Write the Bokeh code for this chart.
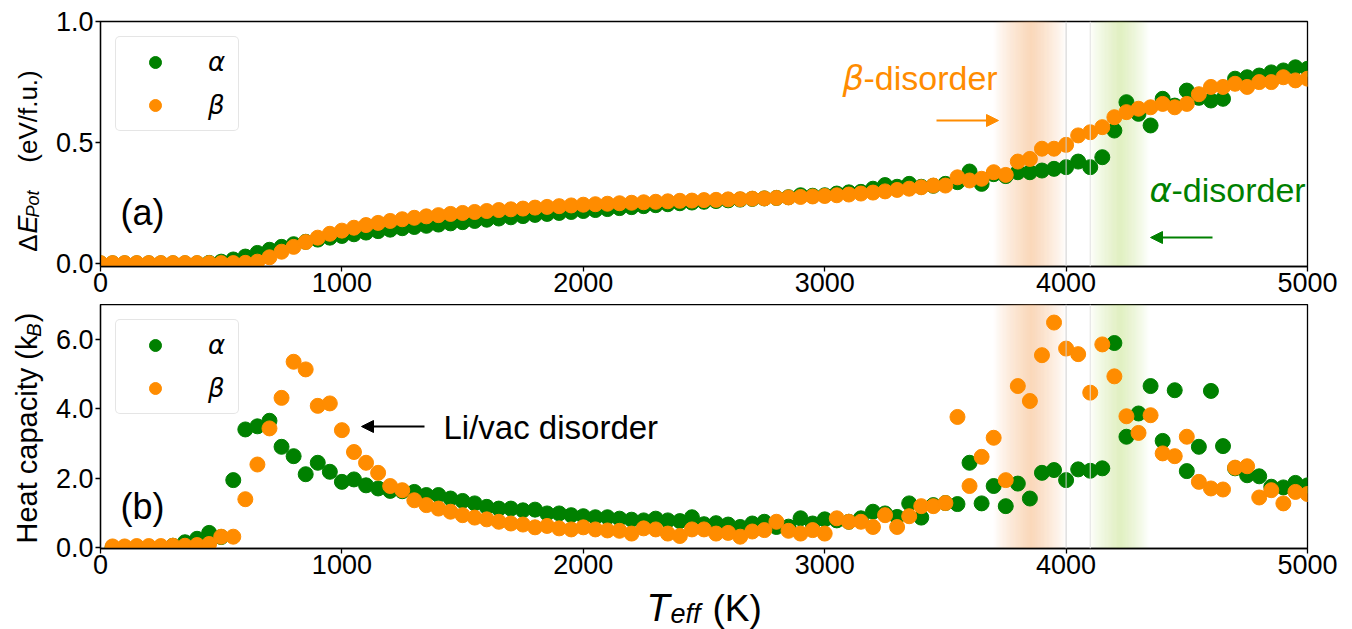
import numpy as np
from bokeh.plotting import figure
from bokeh.layouts import column, row
from bokeh.models import (Legend, LegendItem, Label, Arrow, NormalHead, Span,
                          FixedTicker, NumeralTickFormatter, Range1d)
from bokeh.embed import file_html
from bokeh.resources import INLINE

# ---------------- data ----------------
T_top = [0, 50, 100, 150, 200, 250, 300, 350, 400, 450, 500, 550, 600, 650, 700, 750, 800, 850, 900, 950,
         1000, 1050, 1100, 1150, 1200, 1250, 1300, 1350, 1400, 1450, 1500, 1550, 1600, 1650, 1700, 1750,
         1800, 1850, 1900, 1950, 2000, 2050, 2100, 2150, 2200, 2250, 2300, 2350, 2400, 2450, 2500, 2550,
         2600, 2650, 2700, 2750, 2800, 2850, 2900, 2950, 3000, 3050, 3100, 3150, 3200, 3250, 3300, 3350,
         3400, 3450, 3500, 3550, 3600, 3650, 3700, 3750, 3800, 3850, 3900, 3950, 4000, 4050, 4100, 4150,
         4200, 4250, 4300, 4350, 4400, 4450, 4500, 4550, 4600, 4650, 4700, 4750, 4800, 4850, 4900, 4950, 5000]

E_alpha = [0.002, 0.002, 0.002, 0.002, 0.002, 0.002, 0.002, 0.002, 0.002, 0.004, 0.009, 0.018, 0.030, 0.045,
           0.058, 0.070, 0.081, 0.091, 0.100, 0.108, 0.115, 0.122, 0.129, 0.135, 0.141, 0.147, 0.152, 0.157,
           0.162, 0.167, 0.172, 0.177, 0.182, 0.187, 0.192, 0.197, 0.202, 0.206, 0.210, 0.214, 0.218, 0.222,
           0.226, 0.230, 0.234, 0.238, 0.242, 0.246, 0.250, 0.253, 0.256, 0.259, 0.262, 0.265, 0.268, 0.270,
           0.272, 0.275, 0.283, 0.281, 0.283, 0.290, 0.295, 0.297, 0.310, 0.325, 0.318, 0.330, 0.318, 0.322,
           0.330, 0.337, 0.381, 0.330, 0.370, 0.362, 0.378, 0.378, 0.385, 0.392, 0.399, 0.422, 0.399, 0.440,
           0.550, 0.667, 0.619, 0.571, 0.681, 0.653, 0.715, 0.685, 0.674, 0.681, 0.764, 0.770, 0.777, 0.790,
           0.798, 0.811, 0.805]

E_beta = [0.003, 0.003, 0.003, 0.003, 0.003, 0.003, 0.003, 0.003, 0.003, 0.003, 0.003, 0.003, 0.004, 0.009,
          0.027, 0.050, 0.070, 0.090, 0.108, 0.124, 0.137, 0.149, 0.160, 0.169, 0.177, 0.184, 0.190, 0.196,
          0.201, 0.206, 0.210, 0.214, 0.218, 0.222, 0.225, 0.228, 0.232, 0.235, 0.238, 0.241, 0.244, 0.246,
          0.248, 0.250, 0.252, 0.254, 0.256, 0.258, 0.260, 0.261, 0.263, 0.264, 0.266, 0.267, 0.269, 0.270,
          0.272, 0.274, 0.276, 0.278, 0.280, 0.283, 0.286, 0.290, 0.294, 0.299, 0.305, 0.310, 0.316, 0.323,
          0.323, 0.357, 0.344, 0.351, 0.378, 0.367, 0.422, 0.433, 0.475, 0.475, 0.491, 0.530, 0.543, 0.564,
          0.605, 0.626, 0.640, 0.646, 0.660, 0.646, 0.660, 0.700, 0.730, 0.730, 0.743, 0.730, 0.750, 0.750,
          0.770, 0.757, 0.764]

T_bot = [50, 100, 150, 200, 250, 300, 350, 400, 450, 500, 550, 600, 650, 700, 750, 800, 850, 900, 950, 1000,
         1050, 1100, 1150, 1200, 1250, 1300, 1350, 1400, 1450, 1500, 1550, 1600, 1650, 1700, 1750, 1800,
         1850, 1900, 1950, 2000, 2050, 2100, 2150, 2200, 2250, 2300, 2350, 2400, 2450, 2500, 2550, 2600,
         2650, 2700, 2750, 2800, 2850, 2900, 2950, 3000, 3050, 3100, 3150, 3200, 3250, 3300, 3350, 3400,
         3450, 3500, 3550, 3600, 3650, 3700, 3750, 3800, 3850, 3900, 3950, 4000, 4050, 4100, 4150, 4200,
         4250, 4300, 4350, 4400, 4450, 4500, 4550, 4600, 4650, 4700, 4750, 4800, 4850, 4900, 4950, 5000]

C_alpha = [0.00, 0.00, 0.00, 0.00, 0.01, 0.05, 0.15, 0.25, 0.42, 0.30, 1.94, 3.40, 3.49, 3.65, 2.90, 2.63,
           2.11, 2.44, 2.18, 1.89, 1.96, 1.79, 1.70, 1.63, 1.62, 1.60, 1.51, 1.51, 1.41, 1.34, 1.27, 1.17,
           1.12, 1.12, 1.07, 1.09, 0.98, 0.98, 0.93, 0.90, 0.87, 0.87, 0.83, 0.80, 0.78, 0.83, 0.78, 0.76,
           0.87, 0.67, 0.70, 0.66, 0.59, 0.69, 0.74, 0.59, 0.60, 0.84, 0.69, 0.81, 0.78, 0.74, 0.84, 1.03,
           0.98, 0.88, 1.27, 0.86, 1.22, 1.28, 1.25, 2.44, 1.27, 1.77, 1.19, 1.84, 1.41, 2.15, 2.23, 1.94,
           2.25, 2.21, 2.28, 5.89, 3.19, 3.86, 4.65, 3.07, 4.53, 2.20, 2.90, 4.51, 2.92, 2.28, 2.08, 2.05,
           1.75, 1.73, 1.86, 1.79]

C_beta = [0.03, 0.03, 0.04, 0.04, 0.04, 0.05, 0.05, 0.07, 0.10, 0.31, 0.31, 1.39, 2.39, 3.43, 4.31, 5.35,
          5.13, 4.08, 4.15, 3.38, 2.75, 2.44, 2.15, 1.77, 1.65, 1.36, 1.22, 1.12, 1.03, 0.93, 0.86, 0.81,
          0.74, 0.69, 0.66, 0.58, 0.62, 0.55, 0.52, 0.58, 0.52, 0.49, 0.48, 0.40, 0.55, 0.52, 0.40, 0.33,
          0.52, 0.52, 0.40, 0.42, 0.31, 0.46, 0.50, 0.74, 0.48, 0.40, 0.50, 0.40, 0.84, 0.74, 0.74, 0.59,
          0.93, 0.59, 0.90, 1.19, 1.19, 1.28, 3.76, 1.77, 2.61, 3.16, 1.94, 4.65, 4.22, 5.54, 6.48, 5.73,
          5.57, 4.46, 5.85, 4.93, 3.78, 3.30, 3.81, 2.71, 2.63, 3.19, 1.89, 1.70, 1.67, 2.30, 2.34, 1.44,
          1.65, 1.27, 1.60, 1.54]

x_ticks = [0, 1000, 2000, 3000, 4000, 5000]
top_yticks = [0.0, 0.5, 1.0]
bot_yticks = [0.0, 2.0, 4.0, 6.0]
series_labels = ["α", "β"]

assert len(T_top) == len(E_alpha) == len(E_beta)
assert len(T_bot) == len(C_alpha) == len(C_beta)

# ---------------- style / geometry ----------------
GREEN = "#008000"
ORANGE = "#FF8C00"
FONT = "Liberation Sans"
GREEK = "DejaVu Sans"
BL = 0.31                 # empirical baseline correction (fraction of font size)
MID = 0.35                # distance baseline -> text-box middle (fraction of font size)

LABW = 50                 # width of the strip holding the y-axis titles
FW = 1207                 # frame width
FRAME_LEFT = 100          # page x of frame left edge
LEFT = FRAME_LEFT - LABW
RIGHT = 40
TOP_YR = (-0.011, 1.0)
BOT_YR = (-0.03, 7.0)
TOP_FH, BOT_FH = 245, 244
TOP_Y0 = 21               # page y of top frame
BOT_Y0 = 304              # page y of bottom frame
PAGE_W = LABW + LEFT + FW + RIGHT


def make_fig(yr, fh, btop, bbottom, yticks):
    p = figure(x_range=Range1d(0, 5000), y_range=Range1d(*yr), frame_width=FW, frame_height=fh,
               output_backend="svg", toolbar_location=None, title=None,
               min_border_left=LEFT, min_border_right=RIGHT,
               min_border_top=btop, min_border_bottom=bbottom)
    p.xgrid.visible = False
    p.ygrid.visible = False
    p.outline_line_color = "black"
    p.outline_line_width = 1.3
    p.outline_line_alpha = 1.0
    for ax in (p.xaxis[0], p.yaxis[0]):
        ax.axis_line_color = "black"
        ax.axis_line_width = 1.3
        ax.major_tick_line_color = "black"
        ax.major_tick_line_width = 1.3
        ax.major_tick_out = 5
        ax.major_tick_in = 0
        ax.minor_tick_line_color = None
        ax.major_label_text_font = FONT
        ax.major_label_text_font_size = "27px"
        ax.major_label_text_color = "black"
    p.xaxis.major_label_standoff = 1
    p.yaxis.major_label_standoff = 2
    p.xaxis.ticker = FixedTicker(ticks=x_ticks)
    p.yaxis.ticker = FixedTicker(ticks=yticks)
    p.yaxis.formatter = NumeralTickFormatter(format="0.0")
    return p


def text_canvas(w, x0, y0, y1):
    """A bare figure whose data coordinates equal page pixels (y grows downward)."""
    f = figure(frame_width=w, frame_height=y1 - y0, x_range=Range1d(x0, x0 + w),
               y_range=Range1d(y1, y0), output_backend="svg", toolbar_location=None,
               title=None, x_axis_location=None, y_axis_location=None,
               min_border_left=0, min_border_right=0, min_border_top=0, min_border_bottom=0)
    f.xgrid.visible = False
    f.ygrid.visible = False
    f.outline_line_color = None
    return f


def add_band(p, lo, peak, hi, color, amax):
    # one strip per screen pixel column (FW px for 5000 K)
    k0 = int(np.floor(lo * FW / 5000.0))
    k1 = int(np.ceil(hi * FW / 5000.0))
    ks = np.arange(k0, k1)
    left = ks * 5000.0 / FW
    right = (ks + 1) * 5000.0 / FW
    mid = (left + right) / 2
    a = np.where(mid < peak, (mid - lo) / (peak - lo), (hi - mid) / (hi - peak))
    a = amax * np.clip(a, 0, 1) ** 0.9
    p.quad(left=left, right=right, bottom=-100, top=100, fill_color=color, fill_alpha=a,
           line_color=None)


def decorate(p):
    add_band(p, 3700, 3855, 4000, "#F4A460", 0.5)
    add_band(p, 4095, 4225, 4345, "#9ACD32", 0.33)
    p.add_layout(Span(location=4000, dimension="height", line_color="#cfcfcf", line_width=1))
    p.add_layout(Span(location=4100, dimension="height", line_color="#e2e2e2", line_width=1))


def add_legend(p, ra, rb):
    leg = Legend(items=[LegendItem(label=series_labels[0], renderers=[ra]),
                        LegendItem(label=series_labels[1], renderers=[rb])],
                 location="top_left")
    leg.margin = 15
    leg.padding = 10
    leg.spacing = 13
    leg.glyph_width = 58
    leg.glyph_height = 30
    leg.label_standoff = 24
    leg.label_width = 20
    leg.label_height = 30
    leg.label_text_font = GREEK
    leg.label_text_font_style = "italic"
    leg.label_text_font_size = "26px"
    leg.label_text_color = "black"
    leg.border_line_color = "#cccccc"
    leg.border_line_width = 1.3
    leg.border_radius = 5
    leg.background_fill_alpha = 0.8
    p.add_layout(leg)


# page pixel -> data helpers
def tx(px):
    return (px - FRAME_LEFT) / FW * 5000.0


def ty_top(py):
    return TOP_YR[1] - (py - TOP_Y0) / TOP_FH * (TOP_YR[1] - TOP_YR[0])


def ty_bot(py):
    return BOT_YR[1] - (py - BOT_Y0) / BOT_FH * (BOT_YR[1] - BOT_YR[0])


def lab(p, x, y, text, size, color="black", font=FONT, style="normal", angle=0.0,
        align="left", baseline="alphabetic"):
    p.add_layout(Label(x=x, y=y, text=text, text_font=font, text_font_style=style,
                       text_font_size=f"{size}px", text_color=color, angle=angle,
                       text_align=align, text_baseline=baseline))


def lab_top(px, py, text, size, **kw):
    lab(p1, tx(px), ty_top(py - BL * size), text, size, **kw)


def lab_bot(px, py, text, size, **kw):
    lab(p2, tx(px), ty_bot(py - BL * size), text, size, **kw)


def lab_page(fig, px, py, text, size, **kw):
    lab(fig, px, py - BL * size, text, size, **kw)


def lab_rot(fig, base_x, cy, text, size, **kw):
    """Vertical text (reading upward) centred at cy, with its baseline at base_x."""
    lab(fig, base_x - MID * size, cy, text, size, angle=np.pi / 2, align="center",
        baseline="middle", **kw)


# ---------------- top panel ----------------
p1 = make_fig(TOP_YR, TOP_FH, TOP_Y0, 38, top_yticks)
decorate(p1)
ra1 = p1.scatter(T_top, E_alpha, size=15, color=GREEN)
rb1 = p1.scatter(T_top, E_beta, size=15, color=ORANGE)
add_legend(p1, ra1, rb1)

lab_top(120, 223, "(a)", 36)
lab_top(842, 88, "β", 34, color=ORANGE, font=GREEK, style="italic")
lab_top(863, 88, "-disorder", 34, color=ORANGE)
lab_top(1149, 200, "α", 34, color=GREEN, font=GREEK, style="italic")
lab_top(1171, 200, "-disorder", 34, color=GREEN)
p1.add_layout(Arrow(end=NormalHead(size=12, fill_color=ORANGE, line_color=ORANGE),
                    x_start=tx(936), y_start=ty_top(120), x_end=tx(998), y_end=ty_top(120),
                    line_color=ORANGE, line_width=2))
p1.add_layout(Arrow(end=NormalHead(size=12, fill_color=GREEN, line_color=GREEN),
                    x_start=tx(1212), y_start=ty_top(237), x_end=tx(1150), y_end=ty_top(237),
                    line_color=GREEN, line_width=2))

ylab1 = text_canvas(LABW, 0, 0, BOT_Y0)
lab_rot(ylab1, 37, 221.5, "Δ", 26)
lab_rot(ylab1, 37, 203, "E", 27, style="italic")
lab_rot(ylab1, 39, 182.5, "Pot", 18, style="italic")
lab_rot(ylab1, 37, 95, "(eV/f.u.)", 26)

# ---------------- bottom panel ----------------
BOT_END = BOT_Y0 + BOT_FH + 38
p2 = make_fig(BOT_YR, BOT_FH, 0, 38, bot_yticks)
decorate(p2)
ra2 = p2.scatter(T_bot, C_alpha, size=15, color=GREEN)
rb2 = p2.scatter(T_bot, C_beta, size=15, color=ORANGE)
add_legend(p2, ra2, rb2)

lab_bot(120, 517, "(b)", 36)
lab_bot(443, 437, "Li/vac disorder", 33)
p2.add_layout(Arrow(end=NormalHead(size=12, fill_color="black", line_color="black"),
                    x_start=tx(424), y_start=ty_bot(426), x_end=tx(361), y_end=ty_bot(426),
                    line_color="black", line_width=2))

ylab2 = text_canvas(LABW, 0, BOT_Y0, BOT_END)
lab_rot(ylab2, 37, 439, "Heat capacity (k", 29)
lab_rot(ylab2, 40, 329.5, "B", 20, style="italic")
lab_rot(ylab2, 37, 317, ")", 29)

# ---------------- x-axis title ----------------
xlab = text_canvas(PAGE_W, 0, BOT_END, 629)
lab_page(xlab, 646, 619, "T", 38, style="italic")
lab_page(xlab, 670, 622, "eff", 27, style="italic")
lab_page(xlab, 712, 619, "(K)", 37)

layout = column(row(ylab1, p1, spacing=0), row(ylab2, p2, spacing=0), xlab, spacing=0)
open("out.html", "w").write(file_html(layout, INLINE))
